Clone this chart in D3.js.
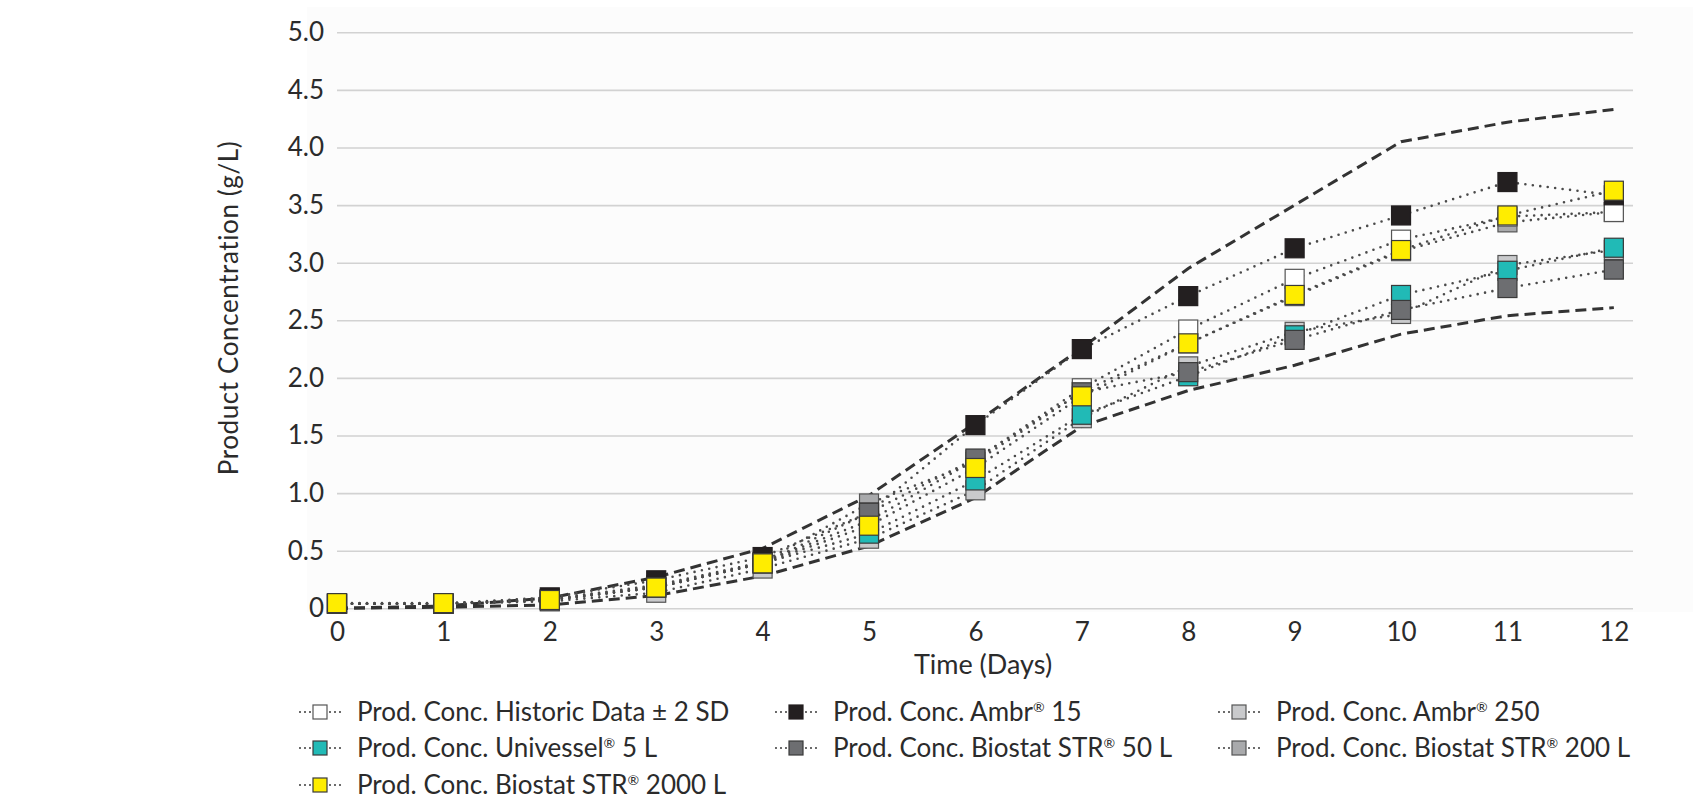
<!DOCTYPE html>
<html lang="en">
    <head>
        <meta charset="utf-8">
        <title>Product Concentration</title>
        <script src="https://d3js.org/d3.v7.min.js"></script>
        <style type="text/css">
            body { margin: 0; background: #fff; }
            text { font-family: Lato, "Open Sans", sans-serif; fill: #2b2b2b; }
        </style>
    </head>
    <body>
        <script type="text/javascript">

            // data (g/L per day)
            var days = [0, 1, 2, 3, 4, 5, 6, 7, 8, 9, 10, 11, 12];
            var yTicks = [0, 0.5, 1, 1.5, 2, 2.5, 3, 3.5, 4, 4.5, 5];

            // historic +/- 2 SD band (dashed lines)
            var upperSD = [0, 0.02, 0.09, 0.27, 0.52, 0.98, 1.61, 2.26, 2.95, 3.50, 4.05, 4.22, 4.33];
            var lowerSD = [0, 0.01, 0.03, 0.11, 0.28, 0.54, 0.96, 1.58, 1.89, 2.11, 2.38, 2.54, 2.61];

            var historic    = [0.04, 0.04, 0.08, 0.20, 0.40, 0.76, 1.29, 1.91, 2.42, 2.86, 3.20, 3.40, 3.44];
            var ambr15      = [0.04, 0.04, 0.095, 0.243, 0.445, 0.83, 1.59, 2.25, 2.71, 3.125, 3.41, 3.70, 3.585];
            var ambr250     = [0.04, 0.04, 0.06, 0.135, 0.345, 0.604, 1.024, 1.65, 2.10, 2.40, 2.555, 2.98, 3.11];
            var univessel5  = [0.04, 0.04, 0.07, 0.18, 0.39, 0.648, 1.11, 1.68, 2.014, 2.37, 2.72, 2.93, 3.13];
            var biostat50   = [0.04, 0.04, 0.07, 0.18, 0.39, 0.83, 1.30, 1.875, 2.05, 2.33, 2.59, 2.78, 2.94];
            var biostat200  = [0.04, 0.04, 0.08, 0.19, 0.40, 0.91, 1.27, 1.88, 2.30, 2.71, 3.10, 3.35, 3.44];
            var biostat2000 = [0.045, 0.045, 0.072, 0.18, 0.39, 0.717, 1.218, 1.84, 2.30, 2.72, 3.11, 3.41, 3.625];

            // legend order
            var series = [
                {name: "Prod. Conc. Historic Data \u00b1 2 SD", values: historic, fill: "#ffffff", stroke: "#555"},
                {name: "Prod. Conc. Ambr\u00ae 15", values: ambr15, fill: "#231f20", stroke: "#231f20"},
                {name: "Prod. Conc. Ambr\u00ae 250", values: ambr250, fill: "#c9cacc", stroke: "#555"},
                {name: "Prod. Conc. Univessel\u00ae 5 L", values: univessel5, fill: "#21bab6", stroke: "#3a3a3a"},
                {name: "Prod. Conc. Biostat STR\u00ae 50 L", values: biostat50, fill: "#6d6e71", stroke: "#3a3a3a"},
                {name: "Prod. Conc. Biostat STR\u00ae 200 L", values: biostat200, fill: "#a9aaac", stroke: "#555"},
                {name: "Prod. Conc. Biostat STR\u00ae 2000 L", values: biostat2000, fill: "#ffed00", stroke: "#3a3a3a"}
            ];
            // order the markers are stacked in the picture
            var drawOrder = [5, 0, 1, 2, 3, 4, 6];

            var svgWidth = 1693, svgHeight = 801;
            var svg = d3.select("body").append("svg")
                .attr("width", svgWidth)
                .attr("height", svgHeight);

            var x = d3.scaleLinear().domain([0, 12.18]).range([337, 1633]);
            var y = d3.scaleLinear().domain([0, 5]).range([608.3, 32.3]);

            // faint plot background
            svg.append("rect")
                .attr("x", 307).attr("y", 7)
                .attr("width", svgWidth - 307).attr("height", 605)
                .attr("fill", "#fcfcfc");

            // horizontal gridlines + y labels
            var yAxis = d3.axisLeft(y)
                .tickValues(yTicks)
                .tickSize(-(x.range()[1] - x.range()[0]))
                .tickPadding(13)
                .tickFormat(function(d) { return d === 0 ? "0" : d3.format(".1f")(d); });

            var gy = svg.append("g")
                .attr("transform", "translate(" + x.range()[0] + ",0)")
                .call(yAxis);
            gy.select(".domain").remove();
            gy.selectAll(".tick line").attr("stroke", "#d2d2d2").attr("stroke-width", 1.6);
            gy.selectAll(".tick text").style("font-size", "26px").attr("fill", "#2b2b2b");

            // x labels
            var xAxis = d3.axisBottom(x).tickValues(days).tickSize(0).tickPadding(14);
            var gx = svg.append("g")
                .attr("transform", "translate(0," + y(0) + ")")
                .call(xAxis);
            gx.select(".domain").remove();
            gx.selectAll(".tick text").style("font-size", "26px").attr("fill", "#2b2b2b");

            // axis titles
            svg.append("text")
                .attr("x", 983).attr("y", 674)
                .attr("text-anchor", "middle")
                .style("font-size", "27px")
                .text("Time (Days)");

            svg.append("text")
                .attr("transform", "translate(229,308) rotate(-90)")
                .attr("text-anchor", "middle")
                .attr("dy", "0.35em")
                .style("font-size", "26px")
                .style("letter-spacing", "0.6px")
                .text("Product Concentration (g/L)");

            var line = d3.line()
                .x(function(d, i) { return x(days[i]); })
                .y(function(d) { return y(d); });

            // dashed +/- 2 SD lines
            [upperSD, lowerSD].forEach(function(vals) {
                svg.append("path")
                    .attr("d", line(vals))
                    .attr("fill", "none")
                    .attr("stroke", "#333")
                    .attr("stroke-width", 3)
                    .attr("stroke-dasharray", "11,6");
            });

            // dotted series lines
            drawOrder.forEach(function(k) {
                svg.append("path")
                    .attr("d", line(series[k].values))
                    .attr("fill", "none")
                    .attr("stroke", "#4a4a4a")
                    .attr("stroke-width", 2.6)
                    .attr("stroke-linecap", "round")
                    .attr("stroke-dasharray", "0,7.5");
            });

            // square markers
            var ms = 19;
            drawOrder.forEach(function(k) {
                var s = series[k];
                svg.append("g").selectAll("rect")
                    .data(s.values)
                    .enter().append("rect")
                    .attr("x", function(d, i) { return x(days[i]) - ms / 2; })
                    .attr("y", function(d) { return y(d) - ms / 2; })
                    .attr("width", ms)
                    .attr("height", ms)
                    .attr("fill", s.fill)
                    .attr("stroke", s.stroke)
                    .attr("stroke-width", 1.2);
            });

            // legend
            var legCols = [320, 796, 1239];
            var legRows = [712, 748, 785];
            series.forEach(function(s, i) {
                var cx = legCols[i % 3], cy = legRows[Math.floor(i / 3)];
                var g = svg.append("g").attr("transform", "translate(" + cx + "," + cy + ")");
                g.append("line")
                    .attr("x1", -20).attr("x2", 22)
                    .attr("stroke", "#4a4a4a")
                    .attr("stroke-width", 2.2)
                    .attr("stroke-linecap", "round")
                    .attr("stroke-dasharray", "0,5");
                g.append("rect")
                    .attr("x", -7).attr("y", -7)
                    .attr("width", 14).attr("height", 14)
                    .attr("fill", s.fill)
                    .attr("stroke", s.stroke)
                    .attr("stroke-width", 1.2);
                var t = g.append("text")
                    .attr("x", 37)
                    .attr("dy", "0.35em")
                    .style("font-size", "26px");
                var parts = s.name.split("\u00ae");
                t.append("tspan").text(parts[0]);
                if (parts.length > 1) {
                    t.append("tspan").attr("dy", -9).style("font-size", "14px").text("\u00ae");
                    t.append("tspan").attr("dy", 9).text(parts[1]);
                }
            });
        </script>
    </body>
</html>
